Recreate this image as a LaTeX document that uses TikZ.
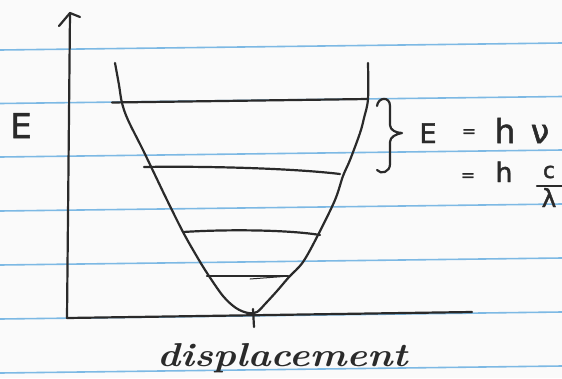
\documentclass[tikz,border=0pt]{standalone}
\usepackage{graphicx}
\usepackage{fontspec}
\newfontfamily\hand[FakeBold=1.5]{DejaVu Sans}
\definecolor{ink}{RGB}{42,42,42}
\definecolor{rulecol}{RGB}{125,185,228}
\definecolor{paper}{RGB}{250,250,250}
\begin{document}
\begin{tikzpicture}[x=1pt,y=-1pt,
  inkline/.style={draw=ink,line width=2.2pt,line cap=round,line join=round},
  ruled/.style={draw=rulecol,line width=1.6pt},
  lbl/.style={text=ink,inner sep=0pt}]
\fill[paper] (0,0) rectangle (562,378);
\useasboundingbox (0,0) rectangle (562,378);
\clip (0,0) rectangle (562,378);
% ruled paper lines
\foreach \y in {50,103.5,157,211,265,319,373} \draw[ruled] (0,\y) -- (562,\y-7);
% axes
\coordinate (O) at (67,318);
\coordinate (xend) at (472,312);
\coordinate (ytop) at (70,13);
\draw[inkline] (O) -- (xend);
\draw[inkline] (O) -- (ytop);
\draw[inkline] (59,26) -- (ytop) -- (80,17);
\draw[inkline] (253,309) -- (254,327);
% potential well
\draw[inkline] plot[smooth,tension=0.55] coordinates {(115,63) (119,85) (122,103) (128,120) (143,150) (155,175) (167,200) (183,232) (196,255) (207,273) (223,296) (236,308) (248,313) (257,312) (266,303) (277,291) (289,277) (303,262) (318,235) (335,200) (343,176) (350,160) (360,133) (364,118) (368,99) (368,63)};
% energy levels
\draw[inkline] (112,102.5) -- (368,99);
\draw[inkline] (144,167) .. controls (200,166) and (290,168) .. (340,174);
\draw[inkline] (183,232) .. controls (230,229) and (290,230) .. (320,235);
\draw[inkline] (207,276) -- (288,276);
\draw[draw=ink,line width=1pt,line cap=round] (250,279) -- (290,276);
% brace
\draw[inkline] (377,106) .. controls (378,97) and (390,96) .. (390,106) -- (390,125)
  .. controls (390,130) and (396,133) .. (402,133)
  .. controls (396,134) and (390,137) .. (390,142) -- (390,164)
  .. controls (390,172) and (381,175) .. (377,170);
% labels
\node[lbl,font=\hand\fontsize{34pt}{34pt}\selectfont,anchor=base] (ylab) at (21,138) {E};
\node[lbl,font=\hand\fontsize{27pt}{27pt}\selectfont,anchor=base] (eqE) at (428,143) {E};
\node[lbl,font=\hand\fontsize{17pt}{17pt}\selectfont] (eq1) at (469,133) {=};
\node[lbl,font=\hand\fontsize{33pt}{33pt}\selectfont,anchor=base] (eqh) at (505,143) {h};
\node[lbl,font=\hand\fontsize{33pt}{33pt}\selectfont,anchor=base] (eqnu) at (540,143) {ν};
\node[lbl,font=\hand\fontsize{17pt}{17pt}\selectfont] (eq2) at (468,177) {=};
\node[lbl,font=\hand\fontsize{27pt}{27pt}\selectfont,anchor=base] (eqh2) at (504,182) {h};
\node[lbl,font=\hand\fontsize{22pt}{22pt}\selectfont] (eqc) at (549,172) {c};
\draw[inkline] (537,186) -- (565,186);
\node[lbl,font=\hand\fontsize{25pt}{25pt}\selectfont,anchor=base] (eqlam) at (549,207) {λ};
\node[lbl,anchor=base west] (xlab) at (157,366) {\resizebox{250pt}{23pt}{\bfseries\itshape displacement}};
\end{tikzpicture}
\end{document}
